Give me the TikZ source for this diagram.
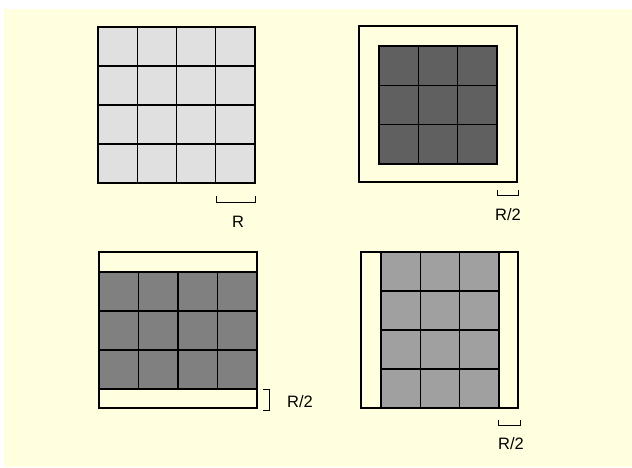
\documentclass[tikz,border=0pt]{standalone}
\usepackage{fontspec}
\setmainfont{Liberation Sans}
\usetikzlibrary{positioning}
\definecolor{paper}{RGB}{255,255,224}
\definecolor{pale}{RGB}{224,224,224}
\definecolor{dark}{RGB}{96,96,96}
\definecolor{mid}{RGB}{128,128,128}
\definecolor{soft}{RGB}{160,160,160}

\begin{document}
\begin{tikzpicture}[x=1pt,y=-1pt,
 cell/.style={draw,line width=1.2pt},
 frame/.style={draw,line width=1.2pt,fill=paper},
 bar/.style={draw,line width=1pt},
 lbl/.style={font=\fontsize{16.5}{19}\selectfont,inner sep=0pt}]
\useasboundingbox (0,0) rectangle (632,467);
\fill[paper] (4,9) rectangle (632,467);
% top left: 4 x 4 cells of side R
\foreach \i in {0,...,3} \foreach \j in {0,...,3}
 \draw[cell,fill=pale] ({98+39.25*\i},{27+39*\j}) rectangle +(39.25,39);
\draw[bar] (216,196) -- (216,202) -- (255,202) -- (255,196);
\node[lbl] (ra) at (238,222) {R};
% top right: margin R/2 all round
\draw[frame] (359,26) rectangle (517,182);
\foreach \i in {0,...,2} \foreach \j in {0,...,2}
 \draw[cell,fill=dark] ({379+39.33*\i},{46+39.33*\j}) rectangle +(39.33,39.33);
\draw[bar] (497,190) -- (497,195) -- (518,195) -- (518,190);
\node[lbl] (rb) at (508,215) {R/2};
% bottom left: margin R/2 top and bottom
\draw[frame] (99,252) rectangle (257,408);
\foreach \i in {0,...,3} \foreach \j in {0,...,2}
 \draw[cell,fill=mid] ({99+39.5*\i},{272+39*\j}) rectangle +(39.5,39);
\draw[bar] (263,389) -- (269,389) -- (269,410) -- (263,410);
\node[lbl] (rc) at (300,402) {R/2};
% bottom right: margin R/2 left and right
\draw[frame] (361,252) rectangle (518,408);
\foreach \i in {0,...,2} \foreach \j in {0,...,3}
 \draw[cell,fill=soft] ({381+39.33*\i},{252+39*\j}) rectangle +(39.33,39);
\draw[bar] (498,420) -- (498,425) -- (520,425) -- (520,420);
\node[lbl] (rd) at (511,444) {R/2};
\end{tikzpicture}
\end{document}
